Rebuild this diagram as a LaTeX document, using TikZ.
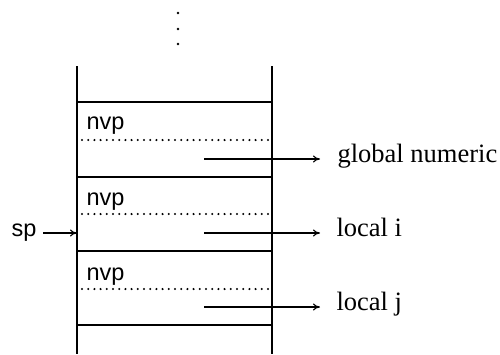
\documentclass[tikz,border=0pt]{standalone}
\usepackage{fontspec}
\setmainfont{Liberation Serif}
\setsansfont{Liberation Sans}
\usetikzlibrary{arrows.meta}
\begin{document}
\begin{tikzpicture}[x=1pt,y=-1pt,line width=1.1pt,
  wall/.style={line width=1.1pt},
  dotline/.style={line width=2.3pt,line cap=round,dash pattern=on 0pt off 6.2pt},
  ptr/.style={-{To[length=7pt,width=7pt]},line width=1.1pt},
  nvplabel/.style={font=\sffamily\fontsize{23.5}{26}\selectfont,inner sep=0pt,anchor=base west},
  target/.style={font=\fontsize{26.5}{28}\selectfont,inner sep=0pt,anchor=mid west},
  dotmark/.style={circle,fill,inner sep=0pt,minimum size=2.8pt}]
\useasboundingbox (0,0) rectangle (500,354);
% continuation dots
\node[dotmark] (d1) at (178,13) {};
\node[dotmark] (d2) at (178,29) {};
\node[dotmark] (d3) at (178,44) {};
% walls
\draw[wall] (77,66) -- (77,354);
\draw[wall] (272,66) -- (272,354);
% separators
\foreach \y in {102,177,251,325}
  \draw[wall] (77,\y) -- (272,\y);
% dotted lines
\foreach \y in {140,214,289}
  \draw[dotline] (82,\y) -- (269,\y);
% nvp labels
\node[nvplabel] (n1) at (86,129) {nvp};
\node[nvplabel] (n2) at (86,205) {nvp};
\node[nvplabel] (n3) at (86,280) {nvp};
% pointer sources
\coordinate (a1) at (204,159);
\coordinate (a2) at (204,233);
\coordinate (a3) at (204,307);
% targets
\node[target] (g) at (337,160) {global numeric};
\node[target] (li) at (336,234) {local i};
\node[target] (lj) at (336,308) {local j};
\draw[ptr] (a1) -- ([xshift=-17pt]a1 -| g.west);
\draw[ptr] (a2) -- ([xshift=-16pt]a2 -| li.west);
\draw[ptr] (a3) -- ([xshift=-16pt]a3 -| lj.west);
% sp
\node[font=\sffamily\fontsize{23.5}{26}\selectfont,inner sep=0pt,anchor=mid east] (sp) at (37,234) {sp};
\coordinate (spw) at (77,233);
\draw[ptr] ([xshift=6pt]spw -| sp.east) -- (spw);
\end{tikzpicture}
\end{document}
